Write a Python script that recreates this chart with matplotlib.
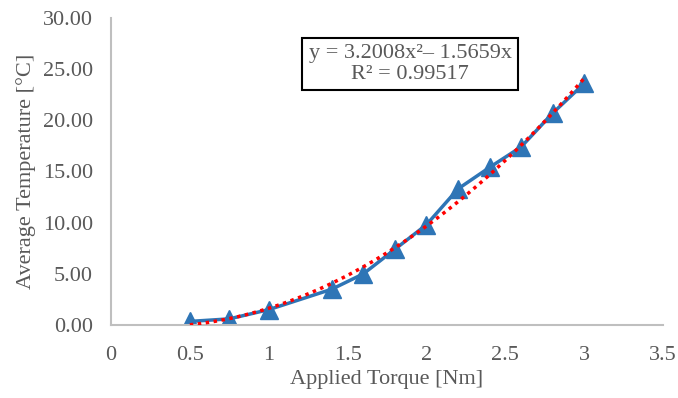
import numpy as np
import matplotlib.pyplot as plt

torque = [0.5, 0.75, 1.0, 1.4, 1.6, 1.8, 2.0, 2.2, 2.4, 2.6, 2.8, 3.0]
avg_temp = [0.35, 0.6, 1.5, 3.5, 5.0, 7.4, 9.8, 13.3, 15.4, 17.4, 20.7, 23.6]

# trendline coefficients shown on the chart (y = a*x^2 + b*x)
fit_a = 3.2008
fit_b = -1.5659
fit_r2 = 0.99517

plt.rcParams['font.family'] = ['Liberation Serif', 'DejaVu Serif']
grey = '#595959'

fig = plt.figure(figsize=(6.78, 3.98), dpi=100)
ax = fig.add_axes([0.1637, 0.1834, 0.8143, 0.7714])

ax.plot(torque, avg_temp, color='#2E75B6', lw=2.5, marker='^', markersize=13, zorder=2)

xs = np.linspace(min(torque), max(torque), 200)
ax.plot(xs, fit_a * xs**2 + fit_b * xs, color='red', lw=2.5, ls=(0, (1, 1.3)), zorder=3)

ax.set_xlim(0, 3.5)
ax.set_ylim(0, 30)
ax.set_xticks([0, 0.5, 1, 1.5, 2, 2.5, 3, 3.5])
ax.set_xticklabels(['0', '0.5', '1', '1.5', '2', '2.5', '3', '3.5'])
ax.set_yticks(np.arange(0, 31, 5))
ax.set_yticklabels([f'{v:.2f}' for v in np.arange(0, 31, 5)])

ax.tick_params(axis='both', length=0, colors=grey, labelsize=16)
ax.tick_params(axis='x', pad=15)
ax.tick_params(axis='y', pad=13)

for side in ['top', 'right']:
    ax.spines[side].set_visible(False)
for side in ['left', 'bottom']:
    ax.spines[side].set_color('#BFBFBF')
    ax.spines[side].set_linewidth(1.5)

ax.set_xlabel('Applied Torque [Nm]', color=grey, fontsize=16, labelpad=4)
ax.set_ylabel('Average Temperature [°C]', color=grey, fontsize=16, labelpad=5)

ax.text(0.5417, 0.85, f'y = {fit_a:.4f}x²– {abs(fit_b):.4f}x\nR² = {fit_r2:.5f}',
        transform=ax.transAxes, ha='center', va='center', fontsize=16, color=grey,
        linespacing=1.1,
        bbox=dict(boxstyle='square,pad=0.3', facecolor='white', edgecolor='black', lw=1.5))

plt.savefig('out.png', dpi=100)
plt.close()
